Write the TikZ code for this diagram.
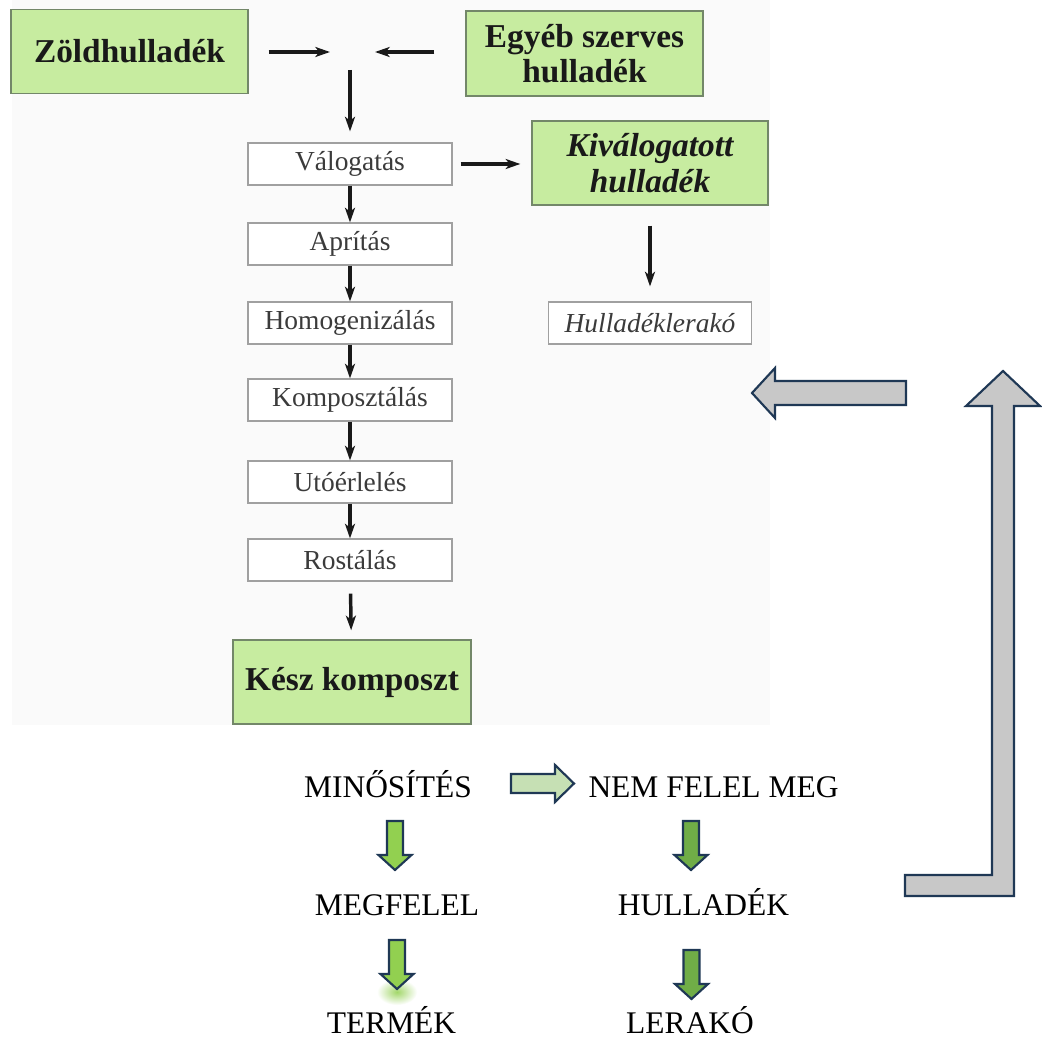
\documentclass[tikz,border=0pt]{standalone}
\usepackage{fontspec}
\setmainfont{Liberation Serif}
\usetikzlibrary{arrows.meta}
\definecolor{boxgreen}{RGB}{199,236,160}
\definecolor{boxgreenline}{RGB}{115,135,105}
\definecolor{greyline}{RGB}{160,160,160}
\definecolor{navy}{RGB}{31,56,85}
\definecolor{lightgreen}{RGB}{198,224,180}
\definecolor{brightgreen}{RGB}{146,208,80}
\definecolor{midgreen}{RGB}{112,173,71}
\definecolor{arrowgrey}{RGB}{200,200,200}
\definecolor{ink}{RGB}{25,25,25}
\definecolor{bgpanel}{RGB}{250,250,250}
\tikzset{
  block/.style={draw=navy, line width=1.6pt, line join=miter},
  downblock/.pic={\path[block,pic actions] (-8,0) -- (8,0) -- (8,34) -- (16.5,34) -- (0,49) -- (-16.5,34) -- (-8,34) -- cycle;},
  flowline/.style={draw=ink, line width=2.6pt, -{Stealth[length=11pt,width=7.5pt,inset=3pt]}}
}
\begin{document}
\begin{tikzpicture}[x=0.75pt,y=-0.75pt,
  greenbox/.style={draw=boxgreenline, line width=1pt, fill=boxgreen, inner sep=0pt,
    minimum width=177.75pt, minimum height=63pt, align=center,
    font=\fontsize{25}{26.5}\selectfont\bfseries, text=ink},
  stepbox/.style={draw=greyline, line width=0.8pt, fill=white, inner sep=0pt,
    minimum width=153pt, minimum height=31.5pt, font=\fontsize{20.6}{24}\selectfont, text=ink!85},
  lbl/.style={inner sep=0pt, font=\fontsize{23.6}{26}\selectfont, text=black, anchor=base},
]
\fill[white] (0,0) rectangle (1042,1041);
\fill[bgpanel] (12,0) rectangle (770,725);
\useasboundingbox (0,0) rectangle (1042,1041);

% top source boxes
\node[greenbox] (zold) at (129.5,51.5) {Zöldhulladék};
\node[greenbox, minimum height=63.75pt] (egyeb) at (584.5,53.5) {Egyéb szerves\\hulladék};

% process chain
\node[stepbox] (val)  at (350,164) {Válogatás};
\node[stepbox] (apr)  at (350,244) {Aprítás};
\node[stepbox] (hom)  at (350,323) {Homogenizálás};
\node[stepbox] (komp) at (350,400) {Komposztálás};
\node[stepbox] (uto)  at (350,482) {Utóérlelés};
\node[stepbox] (rost) at (350,560) {Rostálás};
\node[greenbox, minimum width=178.5pt] (kesz) at (352,682) {Kész komposzt};

\node[greenbox, minimum width=177pt, font=\fontsize{25}{27}\selectfont\bfseries\itshape] (kiv) at (650,163) {Kiválogatott\\hulladék};
\node[stepbox, minimum width=152.25pt, font=\fontsize{20.6}{24}\selectfont\itshape] (hull) at (650,323) {Hulladéklerakó};

% junction coordinates
\coordinate (jl) at (330,52);
\coordinate (jr) at (375,52);
\coordinate (jd) at (350,70);

\draw[flowline, shorten <=15pt] (zold.east |- jl) -- (jl);
\draw[flowline, shorten <=23.25pt] (egyeb.west |- jr) -- (jr);
\draw[flowline, shorten >=8.25pt] (jd) -- (val.north);
\draw[flowline] (val) -- (apr);
\draw[flowline] (apr) -- (hom);
\draw[flowline] (hom) -- (komp);
\draw[flowline] (komp) -- (uto);
\draw[flowline] (uto) -- (rost);
\draw[flowline, shorten <=9pt, shorten >=6.75pt] (rost) -- (kesz);
\draw[flowline, shorten <=6pt, shorten >=8.25pt] (val.east) -- (val.east -| kiv.west);
\draw[flowline, shorten <=15pt, shorten >=11.25pt] (kiv) -- (hull);

% grey feedback arrows
\path[block, fill=arrowgrey] (906,381) -- (775,381) -- (775,368) -- (752,393) -- (775,418) -- (775,405) -- (906,405) -- cycle;
\path[block, fill=arrowgrey] (905,875) -- (992,875) -- (992,406) -- (966,406) -- (1003,371) -- (1040,406) -- (1014,406) -- (1014,896) -- (905,896) -- cycle;

% qualification section
\node[lbl] (min)  at (388,797.5) {MINŐSÍTÉS};
\node[lbl] (nem)  at (713.5,797.5) {NEM FELEL MEG};
\node[lbl] (meg)  at (397,915) {MEGFELEL};
\node[lbl] (hul2) at (703.5,915) {HULLADÉK};
\node[lbl] (term) at (391.5,1033) {TERMÉK};
\node[lbl] (lera) at (690,1033) {LERAKÓ};

\path[block, fill=lightgreen] (511,774) -- (555,774) -- (555,765) -- (574,783.5) -- (555,802) -- (555,793) -- (511,793) -- cycle;

\pic[fill=brightgreen] at (395,821) {downblock};
\pic[fill=midgreen] at (691,821) {downblock};
\shade[inner color=brightgreen!85, outer color=white] (397,992) ellipse (20 and 13);
\pic[fill=brightgreen] at (397,940) {downblock};
\pic[fill=midgreen] at (691.5,950) {downblock};
\end{tikzpicture}
\end{document}
